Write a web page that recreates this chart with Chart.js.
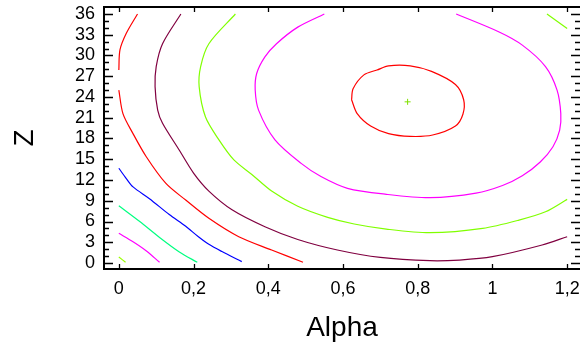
<!DOCTYPE html>
<html lang="en">
<head>
<meta charset="UTF-8">
<title>Contours Alpha / Z</title>
<script src="https://cdn.jsdelivr.net/npm/chart.js@4"></script>
<style>
  html, body { margin: 0; padding: 0; background: #fff; }
</style>
</head>
<body>
<canvas id="chart" width="585" height="345"></canvas>
<script>
// axis ticks
const alphaTicks = [0, 0.2, 0.4, 0.6, 0.8, 1, 1.2];
const zTicks = [0, 3, 6, 9, 12, 15, 18, 21, 24, 27, 30, 33, 36];

// contour lines: alpha values and matching Z values
const c1Alpha = [0, 0.018];
const c1Z = [0.87, 0.1];

const c2Alpha = [0, 0.038, 0.073, 0.109];
const c2Z = [4.29, 3.08, 1.78, 0.1];

const c3Alpha = [0, 0.056, 0.109, 0.162, 0.21];
const c3Z = [8.28, 6.0, 3.7, 1.6, 0.1];

const c4Alpha = [0, 0.02, 0.038, 0.082, 0.135, 0.179, 0.213, 0.241, 0.276, 0.329];
const c4Z = [13.7, 12.2, 11.0, 9.3, 7.0, 5.3, 3.8, 2.7, 1.65, 0.2];

const c5aAlpha = [0.05, 0.02, 0.003, 0];
const c5aZ = [36, 33.2, 30.8, 27.9];
const c5bAlpha = [0, 0.011, 0.038, 0.073, 0.126, 0.179, 0.241, 0.321, 0.409, 0.493];
const c5bZ = [25, 21.6, 18.7, 15.4, 11.5, 9.1, 6.46, 3.8, 1.88, 0.1];

const c6Alpha = [0.166, 0.117, 0.1, 0.097, 0.104, 0.117, 0.162, 0.2, 0.241, 0.303, 0.391, 0.479, 0.585, 0.7, 0.833, 0.912, 1.0, 1.133, 1.2];
const c6Z = [36, 31.7, 28.4, 25.5, 22.1, 20.2, 16.3, 13.0, 10.4, 7.7, 5.25, 3.4, 1.88, 0.8, 0.33, 0.43, 0.91, 2.6, 3.8];

const c7aAlpha = [0.312, 0.241, 0.219, 0.215, 0.232, 0.268, 0.308, 0.356, 0.409, 0.479, 0.559, 0.63, 0.716, 0.833, 0.974, 1.071, 1.142, 1.2];
const c7aZ = [36, 31.7, 28.4, 25.5, 21.1, 17.8, 14.9, 12.8, 10.4, 8.2, 6.6, 5.64, 4.9, 4.38, 5.0, 6.2, 7.4, 9.2];
const c7bAlpha = [1.146, 1.2];
const c7bZ = [36, 33.9];

const c8Alpha = [0.55, 0.479, 0.422, 0.391, 0.369, 0.365, 0.374, 0.418, 0.488, 0.541, 0.612, 0.716, 0.833, 0.956, 1.027, 1.08, 1.128, 1.162, 1.18, 1.183, 1.173, 1.142, 1.08, 1.018, 0.903];
const c8Z = [36, 34.1, 31.7, 29.8, 27.4, 25.0, 22.1, 17.8, 14.4, 12.5, 10.8, 9.93, 9.44, 10.1, 11.2, 12.6, 14.6, 16.8, 19.2, 21.6, 25.0, 28.4, 31.5, 33.4, 36];

const c9Alpha = [0.623, 0.627, 0.656, 0.691, 0.722, 0.78, 0.837, 0.901, 0.923, 0.921, 0.901, 0.84, 0.78, 0.722, 0.674, 0.638, 0.623];
const c9Z = [23.6, 25.2, 27.2, 27.9, 28.5, 28.5, 27.7, 25.8, 23.6, 21.5, 19.8, 18.5, 18.3, 18.7, 19.8, 21.6, 23.6];

// optimum marker
const optAlpha = [0.773];
const optZ = [23.3];

const FONT = "'Liberation Sans', Arial, sans-serif";

function line(alpha, z, color) {
    return {
        data: alpha.map((a, i) => ({ x: a, y: z[i] })),
        showLine: true,
        borderColor: color,
        borderWidth: 1.2,
        pointRadius: 0,
        tension: 0.3,
        fill: false
    };
}

// frame and inward ticks like the original plot
const frame = {
    id: 'frame',
    afterDatasetsDraw(chart) {
        const { ctx, chartArea: a, scales: { x, y } } = chart;
        ctx.save();
        ctx.strokeStyle = '#000';
        ctx.lineWidth = 2;
        ctx.beginPath();
        ctx.moveTo(a.right, a.top); ctx.lineTo(a.left, a.top);
        ctx.lineTo(a.left, a.bottom); ctx.lineTo(a.right, a.bottom);
        ctx.stroke();
        ctx.lineWidth = 1.3;
        ctx.beginPath();
        alphaTicks.forEach(v => {
            const px = Math.round(x.getPixelForValue(v)) + 0.5;
            ctx.moveTo(px, a.bottom); ctx.lineTo(px, a.bottom - 5);
            ctx.moveTo(px, a.top); ctx.lineTo(px, a.top + 5);
        });
        for (let v = zTicks[0]; v <= zTicks[zTicks.length - 1]; v++) {
            const len = v % 3 === 0 ? 9 : 5;
            const py = Math.round(y.getPixelForValue(v)) + 0.5;
            ctx.moveTo(a.left, py); ctx.lineTo(a.left + len, py);
            ctx.moveTo(a.right, py); ctx.lineTo(a.right - len, py);
        }
        ctx.stroke();
        ctx.restore();
    }
};

new Chart(document.getElementById('chart'), {
    type: 'scatter',
    data: {
        datasets: [
            line(c1Alpha, c1Z, '#99ff00'),
            line(c2Alpha, c2Z, '#ff00ff'),
            line(c3Alpha, c3Z, '#00ff80'),
            line(c4Alpha, c4Z, '#0000ff'),
            line(c5aAlpha, c5aZ, '#ff0000'),
            line(c5bAlpha, c5bZ, '#ff0000'),
            line(c6Alpha, c6Z, '#800040'),
            line(c7aAlpha, c7aZ, '#80ff00'),
            line(c7bAlpha, c7bZ, '#80ff00'),
            line(c8Alpha, c8Z, '#ff00ff'),
            line(c9Alpha, c9Z, '#ff0000'),
            {
                data: optAlpha.map((a, i) => ({ x: a, y: optZ[i] })),
                pointStyle: 'cross',
                pointRadius: 3,
                borderColor: '#80e000',
                borderWidth: 1
            }
        ]
    },
    options: {
        responsive: false,
        animation: false,
        events: [],
        layout: { padding: { top: 7, right: 0, left: 0, bottom: 0 } },
        plugins: { legend: { display: false }, tooltip: { enabled: false } },
        scales: {
            x: {
                type: 'linear',
                min: -0.0397,
                max: 1.2344,
                grid: { display: false, drawTicks: false },
                border: { display: false },
                afterBuildTicks: s => { s.ticks = alphaTicks.map(v => ({ value: v })); },
                afterFit: s => { s.height = 76; s.paddingLeft = 0; s.paddingRight = 0; },
                ticks: {
                    autoSkip: false,
                    maxRotation: 0,
                    padding: 9,
                    color: '#000',
                    font: { family: FONT, size: 18 },
                    callback: v => String(v).replace('.', ',')
                },
                title: {
                    display: true,
                    text: 'Alpha',
                    color: '#000',
                    font: { family: FONT, size: 28 },
                    padding: { top: 3, bottom: 0 }
                }
            },
            y: {
                type: 'linear',
                min: -0.867,
                max: 37.01,
                grid: { display: false, drawTicks: false },
                border: { display: false },
                afterBuildTicks: s => { s.ticks = zTicks.map(v => ({ value: v })); },
                afterFit: s => { s.width = 104; s.paddingTop = 0; s.paddingBottom = 0; },
                ticks: {
                    autoSkip: false,
                    padding: 9,
                    color: '#000',
                    font: { family: FONT, size: 18 },
                    callback: v => String(v)
                },
                title: {
                    display: true,
                    text: 'Z',
                    color: '#000',
                    font: { family: FONT, size: 28 },
                    padding: { top: 8, bottom: 0 }
                }
            }
        }
    },
    plugins: [frame]
});
</script>
</body>
</html>
